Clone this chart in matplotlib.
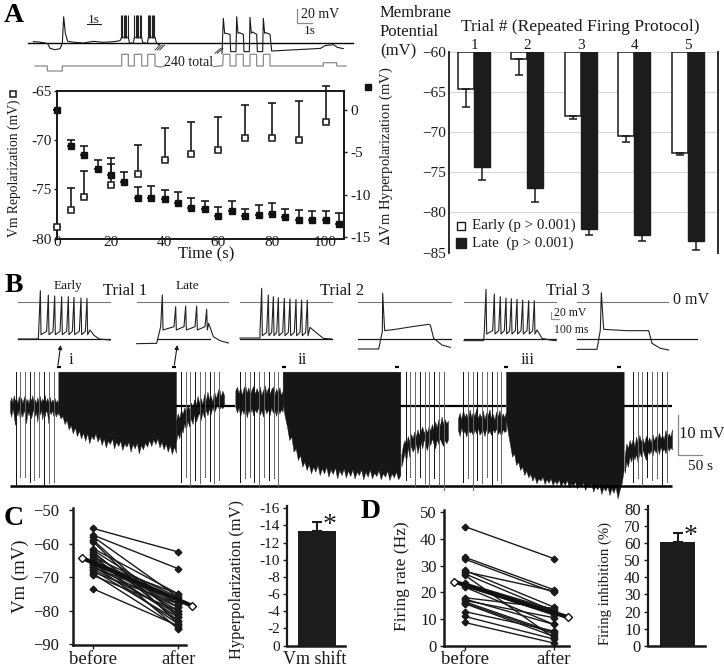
import numpy as np
import matplotlib
matplotlib.use("Agg")
import matplotlib.pyplot as plt

plt.rcParams['font.family'] = ['Liberation Serif', 'DejaVu Serif']
plt.rcParams['axes.linewidth'] = 1.3

W, H = 724, 671
INK = '#1a1a1a'
GREY = '#8a8a8a'

# A: time course
open_t = [0, 5, 10, 20, 30, 40, 50, 60, 70, 80, 90, 100]
open_v = [-78.8, -77.1, -75.8, -74.6, -73.4, -72.0, -71.4, -71.0, -69.8, -69.8, -70.0, -68.2]
open_top = [-78.8, -74.9, -73.1, -72.4, -70.5, -68.8, -68.2, -67.7, -66.5, -66.3, -66.0, -64.5]
fill_t = [0, 5, 10, 15, 20, 25, 30, 35, 40, 45, 50, 55, 60, 65, 70, 75, 80, 85, 90, 95, 100, 105]
fill_v = [0, -4.2, -5.3, -6.9, -7.6, -8.5, -10.4, -10.4, -10.5, -11.0, -11.5, -11.7, -12.5, -11.9, -12.5, -12.4, -12.2, -12.6, -13.0, -12.9, -13.0, -13.4]
fill_top = [0, -3.5, -4.2, -5.9, -5.7, -7.3, -9.1, -9.0, -9.4, -9.6, -10.4, -10.7, -11.4, -10.7, -11.7, -11.2, -11.0, -11.6, -11.8, -11.9, -11.9, -12.1]

# A: trial bars
trials = [1, 2, 3, 4, 5]
early = [-64.7, -60.9, -68.0, -70.5, -72.6]
early_end = [-66.9, -62.9, -68.4, -71.2, -72.9]
late = [-74.4, -77.0, -82.0, -82.8, -83.5]
late_end = [-75.9, -78.7, -82.8, -83.6, -84.7]

# C / D: paired values
vm_before = [-55.5, -57.5, -58, -59, -59.5, -61.5, -62, -62.5, -63, -63.5, -64, -64.5, -65, -65.5, -65.5, -66, -66, -66.5, -67, -67, -67.5, -68, -68.5, -69, -69.5, -73.5]
vm_after = [-62.5, -67.5, -76, -82, -84, -75, -78, -83, -81, -85.5, -76, -79, -80, -75, -78, -77, -82, -84, -77, -79, -81, -83, -78, -85, -80, -84.5]
vm_mean = [-64.3, -78.5]
rate_before = [44.7, 33.2, 32.5, 28.3, 27.8, 27, 26.5, 23.5, 23, 22.5, 22, 18, 17.5, 17, 16.5, 16, 15.8, 12.8, 11, 8.7]
rate_after = [32.7, 21, 20, 14.5, 20.5, 13, 3, 13.5, 12, 11.5, 8, 14, 8, 10.5, 5, 4.5, 3.5, 5.5, 2.5, 1]
rate_mean = [24, 10.7]
shift_bar, shift_top = -13.4, -14.4
inhib_bar, inhib_top = 61, 66

pulse_l_x = [105, 142, 142, 187, 187, 365, 365, 385, 385, 403, 403, 425, 425, 443, 443, 465, 465, 480, 495]
pulse_l_y = [198, 198, 213, 213, 198, 198, 163, 163, 198, 198, 163, 163, 198, 198, 163, 163, 198, 201, 198]
pulse_r_x = [640, 668, 670, 690, 690, 708, 708, 730, 730, 750, 750, 770, 770, 790, 790, 810, 810, 970, 970, 1010, 1010, 1038]
pulse_r_y = [200, 197, 163, 163, 198, 198, 163, 163, 198, 198, 163, 163, 198, 198, 163, 163, 198, 198, 188, 188, 198, 198]
vm_l_x = [100, 115, 130, 143, 150, 165, 180, 187, 191, 196, 203, 225, 250, 280, 310, 340, 360, 365, 385, 388, 400, 403, 425, 428, 442, 445, 465, 470, 478]
vm_l_y = [125, 126, 128, 131, 145, 149, 146, 130, 50, 100, 124, 127, 129, 124, 127, 125, 122, 112, 112, 128, 130, 112, 112, 128, 130, 112, 112, 130, 135]
vm_r_x = [666, 670, 674, 678, 690, 692, 708, 710, 714, 718, 730, 732, 748, 750, 754, 758, 770, 772, 788, 790, 794, 798, 810, 815, 870, 930, 962, 975, 1000, 1012, 1030]
vm_r_y = [160, 55, 100, 100, 103, 155, 155, 50, 100, 98, 103, 155, 155, 52, 100, 96, 103, 155, 155, 55, 100, 98, 103, 153, 150, 147, 145, 137, 134, 142, 146]
burst_starts = [363, 403, 443]
burst_offsets = [0, 4, 8, 12, 16, 20]

# B: short sweeps (start xs, start ys, spike xs, spike tops, trough y, tail xs, tail ys)
sweep_early1 = ([55, 115], [207, 207], [121, 145, 164, 185, 205, 222, 243, 261], [62, 75, 78, 80, 80, 82, 84, 85], 192, [270, 282, 298, 330], [180, 196, 207, 210])
sweep_late1 = ([410, 470], [221, 220], [487, 527, 557, 590, 620], [75, 110, 108, 108, 118], 178, [626, 640, 660, 685], [160, 200, 212, 219])
sweep_early2 = ([720, 780], [204, 204], [785, 805, 820, 835, 853, 870, 888, 905, 922], [55, 75, 80, 83, 85, 87, 88, 90, 90], 195, [930, 945, 970, 995], [172, 185, 205, 207])
sweep_early3 = ([1392, 1451], [212, 212], [1458, 1483, 1501, 1518, 1534, 1551, 1568, 1586, 1603], [58, 72, 80, 84, 86, 88, 90, 92, 92], 190, [1611, 1626, 1650, 1668], [180, 205, 210, 212])
plateau2_x = [1075, 1136, 1147, 1148, 1154, 1186, 1236, 1286, 1291, 1301, 1326, 1351]
plateau2_y = [237, 237, 185, 70, 182, 178, 170, 163, 165, 205, 225, 232]
plateau3_x = [1731, 1791, 1801, 1804, 1811, 1880, 1946, 1956, 1981, 2006]
plateau3_y = [238, 238, 180, 68, 178, 182, 182, 220, 235, 240]

# B: long recording envelopes
pre_i_up = [395, 382, 398, 376, 392, 385, 400, 378, 394, 383, 399, 386, 374, 396, 387, 401, 380, 392, 376, 397, 388, 400, 382, 395, 378, 398, 386, 392, 375, 398, 384, 396, 380, 399, 388, 394, 384, 398, 390, 400]
pre_i_lo = [425, 440, 416, 432, 465, 424, 436, 418, 452, 426, 440, 420, 432, 460, 424, 436, 420, 445, 428, 418, 438, 425, 455, 422, 434, 418, 448, 426, 438, 420, 430, 460, 424, 432, 420, 438, 426, 440, 428, 434]
block_i_lo = [425, 445, 438, 462, 450, 478, 465, 490, 472, 498, 482, 505, 488, 512, 490, 520, 498, 508, 490, 515, 500, 525, 505, 532, 512, 522, 505, 535, 515, 528, 512, 540, 520, 530, 515, 545, 522, 535, 518, 550, 525, 538, 518, 530, 510, 528, 508, 522, 505, 532, 515, 538, 520, 545, 525, 552, 530, 548]
post_i_up = [455, 430, 445, 420, 432, 412, 425, 405, 418, 398, 412, 388, 405, 378, 398, 385, 402, 372, 392, 365, 388, 378, 395, 362, 385, 368, 352, 380, 362, 375]
post_i_lo = [515, 490, 505, 475, 488, 460, 478, 452, 470, 445, 462, 432, 455, 440, 428, 450, 425, 442, 420, 436, 415, 432, 410, 428, 415, 402, 420, 408, 415, 405]
pre_ii_up = [362, 350, 370, 352, 375, 355, 345, 368, 352, 374, 358, 348, 372, 354, 368, 350, 376, 360, 346, 370, 352, 372, 358, 350, 374, 356, 368, 352, 376, 362]
pre_ii_lo = [410, 428, 412, 438, 418, 432, 412, 442, 420, 430, 415, 436, 418, 428, 412, 434, 420, 440, 414, 430, 418, 436, 412, 428, 420, 438, 414, 430, 418, 425]
block_ii_lo = [400, 440, 470, 510, 500, 545, 535, 570, 555, 590, 575, 600, 582, 610, 590, 605, 585, 615, 595, 610, 590, 620, 598, 612, 592, 625, 600, 615, 595, 622, 602, 618, 598, 625, 605, 615, 598, 628, 605, 620, 598, 625, 608, 618, 600, 628, 610, 620, 602, 630, 610, 622, 605, 628, 615]
post_ii_up = [555, 525, 510, 525, 498, 515, 492, 505, 485, 500, 478, 495, 482, 470, 490, 475, 488, 468, 482, 462, 478, 455, 472, 448, 468, 440, 462, 448, 460, 452]
post_ii_lo = [590, 570, 545, 575, 530, 560, 525, 545, 535, 520, 550, 528, 515, 535, 505, 528, 540, 512, 525, 505, 520, 535, 508, 522, 505, 518, 528, 510, 520, 508]
pre_iii_up = [445, 428, 448, 420, 440, 430, 450, 418, 442, 425, 438, 415, 445, 430, 442, 422, 448, 428, 436, 418, 445, 432, 450, 425, 440, 420, 446, 430, 442, 425]
pre_iii_lo = [480, 498, 472, 490, 482, 500, 476, 488, 484, 496, 478, 490, 474, 494, 486, 480, 498, 476, 490, 482, 495, 478, 488, 475, 492, 484, 498, 478, 486, 482]
block_iii_lo = [450, 490, 525, 560, 550, 585, 575, 600, 590, 615, 602, 622, 612, 632, 618, 640, 625, 632, 620, 642, 628, 638, 625, 645, 632, 642, 628, 650, 635, 645, 630, 652, 640, 648, 635, 655, 642, 650, 638, 660, 645, 652, 640, 665, 648, 658, 645, 672, 652, 662, 648, 675, 655, 668, 650, 685, 660, 640, 600]
post_iii_up = [560, 520, 535, 510, 525, 505, 530, 500, 520, 495, 515, 505, 522, 498, 515, 502, 518, 492, 512, 498, 510, 488, 505, 495, 508, 480, 502, 490, 500, 478]
post_iii_lo = [610, 575, 590, 560, 575, 550, 568, 552, 578, 545, 560, 540, 555, 570, 545, 552, 540, 558, 535, 548, 532, 552, 530, 545, 535, 550, 528, 542, 532, 538]

spikes_b = [47, 60, 75, 90, 103, 118, 133, 147, 162, 542, 557, 571, 586, 600, 614, 629, 643, 658,
            720, 735, 749, 763, 778, 792, 807, 821, 835, 1217, 1231, 1246, 1260, 1274, 1288, 1303, 1317, 1332,
            1389, 1403, 1418, 1432, 1446, 1461, 1475, 1490, 1504, 1898, 1913, 1927, 1942, 1956, 1971, 1985, 2000]
spike_ends = [647, 620, 620, 635, 630, 620, 647, 640, 635, 635, 620, 647, 630, 640, 620, 632, 640, 630,
              635, 625, 620, 635, 647, 620, 630, 625, 647, 630, 622, 647, 620, 640, 650, 625, 645, 660,
              635, 625, 660, 630, 640, 620, 645, 630, 640, 635, 625, 645, 620, 630, 625, 645, 635]
marks_b = [172, 515, 846, 1184, 1513, 1851]


def px_axes(x0, y0, x1, y1):
    # rectangle given in 3x picture units
    return fig.add_axes([x0 / (3 * W), 1 - y1 / (3 * H), (x1 - x0) / (3 * W), (y1 - y0) / (3 * H)])


def style(ax, size=11):
    ax.tick_params(labelsize=size, length=3, width=1.0, pad=2, colors=INK)
    for s in ax.spines.values():
        s.set_color(INK)


fig = plt.figure(figsize=(W / 100, H / 100), dpi=100)
cv = fig.add_axes([0, 0, 1, 1])
cv.set_xlim(0, 3 * W)
cv.set_ylim(3 * H, 0)
cv.axis('off')


def txt(x, y, s, size=11, **kw):
    kw.setdefault('ha', 'center')
    kw.setdefault('va', 'center')
    kw.setdefault('color', INK)
    cv.text(x, y, s, fontsize=size, **kw)


# panel letters
txt(40, 45, 'A', 20, fontweight='bold', color='black')
txt(40, 858, 'B', 20, fontweight='bold', color='black')
txt(40, 1555, 'C', 20, fontweight='bold', color='black')
txt(1112, 1535, 'D', 20, fontweight='bold', color='black')

# A sweeps
cv.plot([85, 1058], [128, 128], color='black', lw=1.0)
cv.plot(vm_l_x, vm_l_y, color=INK, lw=0.8)
cv.plot(vm_r_x, vm_r_y, color=INK, lw=0.8)
for b in burst_starts:
    cv.vlines(np.array(burst_offsets) + b, 45, 115, color='#222222', lw=0.8)
cv.plot(pulse_l_x, pulse_l_y, color=GREY, lw=0.9)
cv.plot(pulse_r_x, pulse_r_y, color=GREY, lw=0.9)
for dx in [0, 7, 14]:
    cv.plot([465 + dx, 480 + dx], [150, 135], color=INK, lw=0.6)
for dx in [0, 7]:
    cv.plot([645 + dx, 662 + dx], [160, 145], color=INK, lw=0.6)
txt(567, 187, '240 total', 10)
txt(280, 60, '1s', 9.5)
cv.plot([260, 302], [73, 73], color=INK, lw=0.8)
cv.plot([892, 892, 935], [28, 70, 70], color=GREY, lw=0.9)
txt(960, 45, '20 mV', 10)
txt(930, 93, '1s', 9.5)

# A time course
ax = px_axes(172, 272, 1033, 716)
ax.set_xlim(0, 107)
ax.set_ylim(-80, -65)
ax.set_xticks([0, 20, 40, 60, 80, 100])
ax.set_yticks([-65, -70, -75, -80])
style(ax, 11)
ax.set_yticklabels(['-65', '-70', '-75', '-80'])
ax.tick_params(axis='x', length=0, pad=-2)
ax.tick_params(axis='y', length=2)
ax.errorbar(open_t, open_v, yerr=[np.zeros(len(open_v)), np.array(open_top) - np.array(open_v)], fmt='none',
            ecolor=INK, elinewidth=1.2, capsize=3, capthick=1.2, clip_on=False, zorder=3)
ax.plot(open_t, open_v, 's', mfc='white', mec=INK, mew=1.1, ms=4.8, clip_on=False, zorder=5)
ax2 = ax.twinx()
ax2.set_ylim(-15.14, 2.27)
ax2.set_yticks([0, -5, -10, -15])
style(ax2, 11)
ax2.set_yticklabels(['0', '-5', '-10', '-15'])
ax2.tick_params(axis='y', length=2)
ax2.errorbar(fill_t, fill_v, yerr=[np.zeros(len(fill_v)), np.array(fill_top) - np.array(fill_v)], fmt='none',
             ecolor=INK, elinewidth=1.2, capsize=3, capthick=1.2, clip_on=False, zorder=3)
ax2.plot(fill_t, fill_v, 's', color='#111111', ms=4.3, clip_on=False, zorder=6)
ax2.set_zorder(ax.get_zorder() - 1)
ax.set_zorder(ax2.get_zorder() + 1)
ax.patch.set_visible(False)
txt(618, 762, 'Time (s)', 12)
txt(42, 505, 'Vm Repolarization (mV)', 9.8, rotation=90)
txt(1160, 470, r'$\Delta$Vm Hyperpolarization (mV)', 10.5, rotation=90, math_fontfamily='stix')
cv.plot([40], [281], 's', mfc='white', mec=INK, mew=1.1, ms=4.8)
cv.plot([1105], [262], 's', color='#111111', ms=4)

# A trial bars
bx = px_axes(1348, 155, 2155, 758)
bx.set_xlim(0.5375, 5.575)
bx.set_ylim(-85, -60)
bx.set_yticks([-60, -65, -70, -75, -80, -85])
style(bx, 11)
bx.yaxis.grid(True, color='#d4d4d4', lw=0.7)
bx.set_axisbelow(True)
bx.spines['top'].set_visible(False)
bx.spines['bottom'].set_visible(False)
bx.xaxis.tick_top()
bx.set_xticks(trials)
bx.tick_params(axis='x', length=0, pad=0)
bx.tick_params(axis='y', length=0, pad=2)
tr = np.array(trials)
bx.bar(tr - 0.15, np.array(early) + 60, 0.3, bottom=-60, color='white', edgecolor=INK, lw=1.1)
bx.bar(tr + 0.15, np.array(late) + 60, 0.3, bottom=-60, color='#1c1c1c', edgecolor='#1c1c1c', lw=1.0)
bx.errorbar(tr - 0.15, early, yerr=[np.array(early) - np.array(early_end), np.zeros(5)], fmt='none', ecolor=INK, elinewidth=1.1, capsize=3, capthick=1.1, zorder=1.5)
bx.errorbar(tr + 0.15, late, yerr=[np.array(late) - np.array(late_end), np.zeros(5)], fmt='none', ecolor=INK, elinewidth=1.1, capsize=3, capthick=1.1, zorder=1.5)
txt(1140, 38, 'Membrane', 12, ha='left')
txt(1140, 95, 'Potential', 12, ha='left')
txt(1140, 155, '(mV)', 12, ha='left')
txt(1740, 82, 'Trial # (Repeated Firing Protocol)', 12.6)
cv.plot([1383], [677], 's', mfc='white', mec=INK, mew=1.0, ms=5.5, zorder=20)
cv.plot([1383], [730], 's', color='#1c1c1c', ms=6.5, zorder=20)
bx.set_zorder(1)
cv.set_zorder(2)
cv.patch.set_visible(False)
txt(1415, 677, 'Early (p > 0.001)', 10.8, ha='left', zorder=20)
txt(1415, 730, 'Late  (p > 0.001)', 10.8, ha='left', zorder=20)

# B short sweeps
B0 = 810
for x0, x1 in [(55, 330), (410, 685), (720, 995), (1075, 1352), (1392, 1668), (1731, 2004)]:
    cv.plot([x0, x1], [B0 + 95, B0 + 95], color='#777777', lw=0.8)
for x0, x1 in [(55, 330), (470, 630), (720, 995), (1075, 1352), (1392, 1668), (1731, 2090)]:
    cv.plot([x0, x1], [B0 + 207, B0 + 207], color=INK, lw=0.9)
for head_x, head_y, spike_x, spike_top, trough, tail_x, tail_y in [sweep_early1, sweep_late1, sweep_early2, sweep_early3]:
    xs = list(head_x)
    ys = list(head_y)
    for sx, st in zip(spike_x, spike_top):
        xs += [sx - 5, sx, sx + 2]
        ys += [trough - 8, st, trough + 2]
    xs += tail_x
    ys += tail_y
    cv.plot(xs, B0 + np.array(ys), color='#222222', lw=0.8)
cv.plot(plateau2_x, B0 + np.array(plateau2_y), color='#222222', lw=0.8)
cv.plot(plateau3_x, B0 + np.array(plateau3_y), color='#222222', lw=0.8)
txt(204, B0 + 48, 'Early', 9.5)
txt(562, B0 + 48, 'Late', 9.5)
txt(375, B0 + 63, 'Trial 1', 12)
txt(1025, B0 + 63, 'Trial 2', 12)
txt(1703, B0 + 63, 'Trial 3', 12)
txt(2074, B0 + 90, '0 mV', 11.5)
txt(1710, B0 + 130, '20 mV', 8.5)
txt(1714, B0 + 180, '100 ms', 8.5)
cv.plot([1654, 1654, 1676], [B0 + 125, B0 + 148, B0 + 148], color='#999999', lw=0.9)
for x0, y0, x1, y1 in [(182, 225, 174, 285), (532, 225, 523, 285)]:
    cv.annotate('', xy=(x0, B0 + y0), xytext=(x1, B0 + y1),
                arrowprops=dict(arrowstyle='-|>', color=INK, lw=0.8, mutation_scale=6, shrinkA=0, shrinkB=0))
txt(214, B0 + 270, 'i', 12)
txt(907, B0 + 270, 'ii', 12)
txt(1584, B0 + 270, 'iii', 12)
for m in marks_b:
    cv.plot([m, m + 12], [B0 + 291, B0 + 291], color='black', lw=1.6, solid_capstyle='butt')

# B long recording
cv.plot([30, 2016], [B0 + 647, B0 + 647], color='black', lw=1.8, solid_capstyle='butt')
cv.plot([528, 705], [B0 + 407, B0 + 407], color='black', lw=1.6, solid_capstyle='butt')
cv.plot([1201, 1518], [B0 + 407, B0 + 407], color='black', lw=1.6, solid_capstyle='butt')
cv.plot([1871, 2016], [B0 + 407, B0 + 407], color='black', lw=1.6, solid_capstyle='butt')
for i, (sx, se) in enumerate(zip(spikes_b, spike_ends)):
    cv.plot([sx, sx], [B0 + 305, B0 + se], color='#111111' if i % 3 == 0 else '#666666', lw=0.7)
for x0, x1, up, lo in [(30, 175, pre_i_up, pre_i_lo), (528, 672, post_i_up, post_i_lo),
                       (706, 848, pre_ii_up, pre_ii_lo), (1204, 1344, post_ii_up, post_ii_lo),
                       (1374, 1518, pre_iii_up, pre_iii_lo), (1874, 2016, post_iii_up, post_iii_lo)]:
    cv.fill_between(np.linspace(x0, x1, len(up)), B0 + np.array(up), B0 + np.array(lo), color='#161616', lw=0.3)
for x0, x1, lo in [(175, 528, block_i_lo), (848, 1201, block_ii_lo), (1518, 1871, block_iii_lo)]:
    cv.fill_between(np.linspace(x0, x1, len(lo)), B0 + 305, B0 + np.array(lo), color='#161616', lw=0.3)
cv.plot([2034, 2034, 2106], [B0 + 435, B0 + 555, B0 + 555], color='#888888', lw=0.9)
txt(2106, B0 + 493, '10 mV', 12)
txt(2100, B0 + 590, '50 s', 11)


def paired(ax, before, after, mean, x_ends):
    for a, b in zip(before, after):
        ax.plot([0, 1], [a, b], '-D', color='#1a1a1a', lw=1.0, ms=3.4, clip_on=False, zorder=3)
    ax.plot(x_ends, mean, '-', color='#111111', lw=3, clip_on=False, zorder=4)
    ax.plot(x_ends, mean, 'D', mfc='white', mec='#111111', mew=1.0, ms=4.3, clip_on=False, zorder=5)
    ax.set_xticks([0, 1])
    ax.set_xticklabels(['before', 'after'])
    ax.tick_params(axis='x', labelsize=13.5, pad=1)
    ax.spines['top'].set_visible(False)
    ax.spines['right'].set_visible(False)
    ax.spines['left'].set_linewidth(1.8)
    ax.spines['bottom'].set_linewidth(1.8)


def shift_plot(ax, value, top, ticks):
    ax.bar([0], [value], 1.0, color='#1c1c1c', zorder=3)
    ax.errorbar([0], [value], yerr=[[value - min(value, top)], [max(value, top) - value]], fmt='none',
                ecolor=INK, elinewidth=1.5, capsize=3.5, capthick=1.5, zorder=2)
    ax.set_yticks(ticks)
    ax.set_xticks([])
    ax.spines['top'].set_visible(False)
    ax.spines['right'].set_visible(False)
    ax.spines['left'].set_linewidth(1.6)
    ax.spines['bottom'].set_linewidth(1.8)


# C
cx = px_axes(218, 1470 + 55, 558, 1470 + 465)
cx.set_xlim(-0.243, 1.09)
cx.set_ylim(-90.2, -49.5)
cx.set_yticks([-50, -60, -70, -80, -90])
style(cx, 12)
cx.tick_params(axis='y', pad=7)
paired(cx, vm_before, vm_after, vm_mean, [-0.13, 1.157])
txt(60, 1470 + 260, 'Vm (mV)', 13.5, rotation=90)

cb = px_axes(860, 1470 + 47, 1035, 1470 + 467)
cb.set_xlim(-0.787, 0.735)
cb.set_ylim(0, -16.3)
shift_plot(cb, shift_bar, shift_top, [0, -2, -4, -6, -8, -10, -12, -14, -16])
style(cb, 11)
cb.set_yticklabels(['0', '-2', '-4', '-6', '-8', '-10', '-12', '-14', '-16'])
txt(712, 1470 + 268, 'Hyperpolarization (mV)', 11.8, rotation=90)
txt(945, 1470 + 510, 'Vm shift', 13)
txt(990, 1470 + 105, '*', 20)

# D
dx_ = px_axes(1086 + 245, 1470 + 60, 1086 + 622, 1470 + 467)
dx_.set_xlim(-0.236, 1.176)
dx_.set_ylim(0, 50.9)
dx_.set_yticks([0, 10, 20, 30, 40, 50])
style(dx_, 12)
paired(dx_, rate_before, rate_after, rate_mean, [-0.116, 1.16])
txt(1086 + 120, 1470 + 258, 'Firing rate (Hz)', 12.6, rotation=90)

db = px_axes(1086 + 857, 1470 + 47, 1086 + 1030, 1470 + 467)
db.set_xlim(-0.862, 0.786)
db.set_ylim(0, 82)
shift_plot(db, inhib_bar, inhib_top, [0, 10, 20, 30, 40, 50, 60, 70, 80])
style(db, 12)
txt(1086 + 730, 1470 + 280, 'Firing inhibition (%)', 10.6, rotation=90)
txt(1086 + 987, 1470 + 140, '*', 20)

fig.savefig('out.png', dpi=100)
